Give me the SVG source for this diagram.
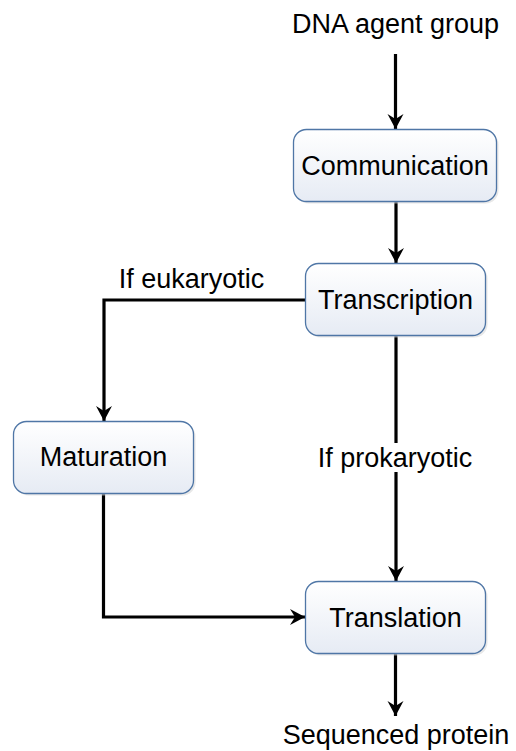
<svg xmlns="http://www.w3.org/2000/svg" width="516" height="751" viewBox="0 0 516 751">
  <defs>
    <linearGradient id="boxFill" x1="0" y1="0" x2="0" y2="1">
      <stop offset="0" stop-color="#ffffff"/>
      <stop offset="1" stop-color="#e6ebf4"/>
    </linearGradient>
    <marker id="arrow" markerUnits="userSpaceOnUse" markerWidth="16" markerHeight="18" refX="15" refY="9" orient="auto" viewBox="0 0 16 18">
      <path d="M0,1 L15,9 L0,17 L5,9 z" fill="#000"/>
    </marker>
  </defs>
  <style>
    .box { fill: url(#boxFill); stroke: #4f76a6; stroke-width: 1.3; }
    .shadow { fill: #d9d9d9; opacity: 0.6; }
    .label { font-family: "Liberation Sans", Arial, sans-serif; font-size: 27px; fill: #000; text-anchor: middle; }
    .link { fill: none; stroke: #000; stroke-width: 3.2; }
    .arrowed { marker-end: url(#arrow); }
  </style>
  <rect width="516" height="751" fill="#ffffff"/>

  <!-- connectors -->
  <g id="connectors">
    <line class="link arrowed" x1="395.5" y1="54" x2="395.5" y2="129"/>
    <line class="link arrowed" x1="396" y1="201" x2="396" y2="263"/>
    <polyline class="link arrowed" points="305,300 104,300 104,421"/>
    <line class="link" x1="396" y1="335" x2="396" y2="443"/>
    <line class="link arrowed" x1="396" y1="472" x2="396" y2="581"/>
    <polyline class="link arrowed" points="103.5,493 103.5,617 305,617"/>
    <line class="link arrowed" x1="395.5" y1="653" x2="395.5" y2="716"/>
  </g>

  <!-- free labels -->
  <g id="labels">
    <text class="label" x="395.5" y="33">DNA agent group</text>
    <text class="label" x="191.5" y="288">If eukaryotic</text>
    <text class="label" x="395" y="467">If prokaryotic</text>
    <text class="label" x="396" y="744">Sequenced protein</text>
  </g>

  <g id="communication">
    <rect class="shadow" x="295.5" y="131.5" width="203" height="72" rx="13"/>
    <rect class="box" x="293.5" y="129.5" width="203" height="72" rx="13"/>
    <text class="label" x="395" y="175">Communication</text>
  </g>

  <g id="transcription">
    <rect class="shadow" x="307.5" y="265.5" width="180" height="72" rx="13"/>
    <rect class="box" x="305.5" y="263.5" width="180" height="72" rx="13"/>
    <text class="label" x="395.5" y="309">Transcription</text>
  </g>

  <g id="maturation">
    <rect class="shadow" x="15.5" y="423.5" width="180" height="72" rx="13"/>
    <rect class="box" x="13.5" y="421.5" width="180" height="72" rx="13"/>
    <text class="label" x="103.5" y="466">Maturation</text>
  </g>

  <g id="translation">
    <rect class="shadow" x="307.5" y="583.5" width="180" height="72" rx="13"/>
    <rect class="box" x="305.5" y="581.5" width="180" height="72" rx="13"/>
    <text class="label" x="395.5" y="627">Translation</text>
  </g>
</svg>
